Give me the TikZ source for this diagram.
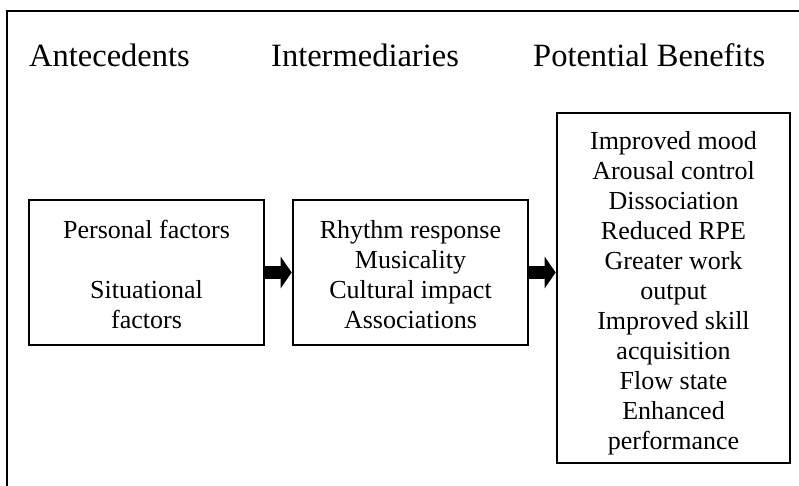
\documentclass[tikz,border=0pt]{standalone}
\usepackage{fontspec}
\setmainfont{Liberation Serif}
\usetikzlibrary{arrows.meta}
\begin{document}
\begin{tikzpicture}[x=1pt,y=-1pt,
  heading/.style={anchor=base west,inner sep=0pt,font=\fontsize{32.5}{38}\selectfont},
  stagebox/.style={draw,line width=2.6pt,inner sep=0pt},
  stagetext/.style={inner sep=0pt,align=center,font=\fontsize{26}{30}\selectfont},
  flowarrow/.style={line width=13pt,-{Triangle[length=11pt,width=31pt]}}]
  \useasboundingbox (0,0) rectangle (799,485);
  % page frame (only top and left edges fall inside the picture)
  \coordinate (fa) at (7,490);
  \coordinate (fb) at (7,11);
  \coordinate (fc) at (804,11);
  \draw[line width=1.6pt] (fa) -- (fb) -- (fc);
  % column headings
  \node[heading] (h1) at (29,66) {Antecedents};
  \node[heading] (h2) at (271,66) {Intermediaries};
  \node[heading] (h3) at (533,66) {Potential Benefits};
  % stage boxes
  \node[stagebox,minimum width=235pt,minimum height=145pt] (b1) at (146.5,272.5) {};
  \node[stagebox,minimum width=235pt,minimum height=145pt] (b2) at (410.5,272.5) {};
  \node[stagebox,minimum width=233pt,minimum height=350pt] (b3) at (673.5,288) {};
  % box contents
  \node[stagetext] (t1) at ([yshift=-2pt]b1.center)
    {Personal factors\\[30pt]Situational\\factors};
  \node[stagetext] (t2) at ([yshift=-2pt]b2.center)
    {Rhythm response\\Musicality\\Cultural impact\\Associations};
  \node[stagetext] (t3) at ([yshift=-5.5pt]b3.center)
    {Improved mood\\Arousal control\\Dissociation\\Reduced RPE\\Greater work\\output\\Improved skill\\acquisition\\Flow state\\Enhanced\\performance};
  % connectors
  \draw[flowarrow] (b1.east) -- (b2.west);
  \draw[flowarrow] (b2.east) -- (b3.west |- b2.east);
\end{tikzpicture}
\end{document}
